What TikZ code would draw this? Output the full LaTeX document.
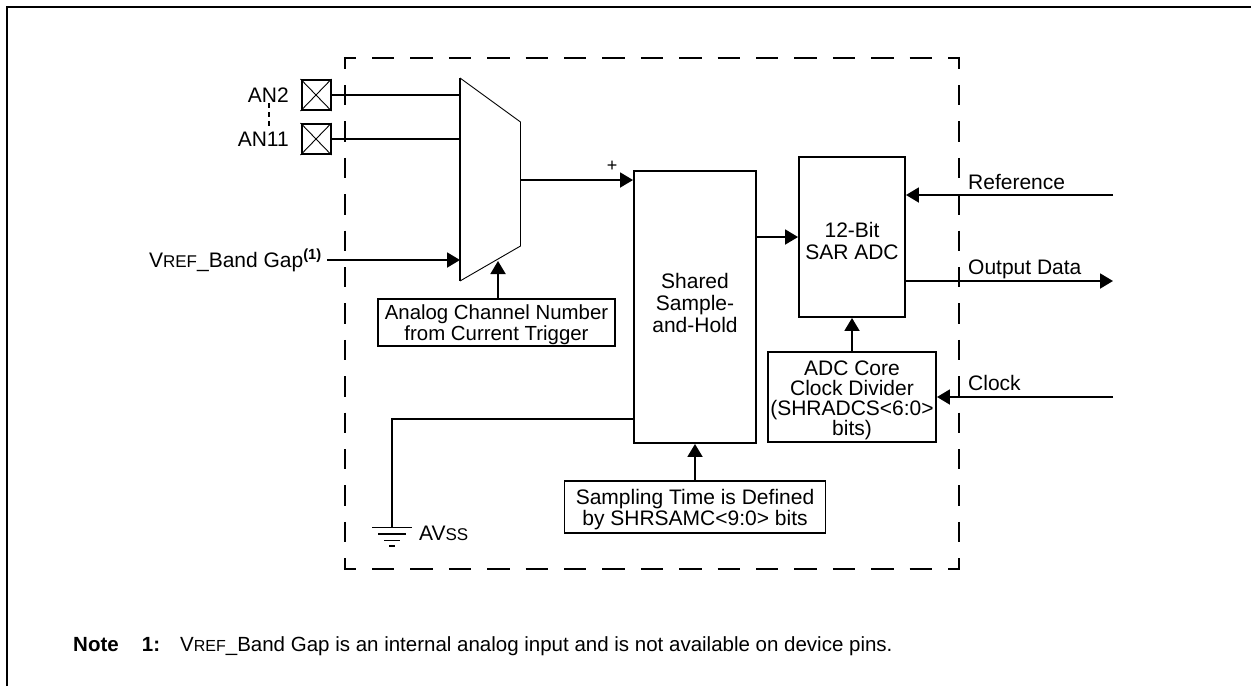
\documentclass[tikz,border=0pt]{standalone}
\usepackage{fontspec}
\setmainfont{Liberation Sans}
\usetikzlibrary{arrows.meta,calc}
\newcommand{\fs}{\fontsize{21}{22}\selectfont}
\newcommand{\sm}[1]{{\fontsize{17}{22}\selectfont #1}}
\tikzset{
 wire/.style={line width=1.9pt},
 arr/.style={wire,-{Triangle[length=13pt,width=15pt]}},
 block/.style={draw,line width=1.9pt,rectangle,inner sep=0pt},
 blocktext/.style={inner sep=0pt,align=center,font=\fs},
 pin/.style={draw,line width=2pt,rectangle,inner sep=0pt,minimum width=29pt,minimum height=30pt},
 lbl/.style={inner sep=0pt,font=\fs,anchor=base west},
 lble/.style={inner sep=0pt,font=\fs,anchor=base east},
 hdash/.style={line width=1.9pt,dash pattern=on 22.4pt off 16pt,dash phase=10.2pt},
 vdash/.style={line width=1.9pt,dash pattern=on 20.4pt off 16pt,dash phase=8.2pt},
 notetext/.style={inner sep=0pt,anchor=base west},
}
\begin{document}
\begin{tikzpicture}[x=1pt,y=-1pt]
\useasboundingbox (0,0) rectangle (1251,686);
\draw[line width=2.4pt] (7,686) -- (7,7) -- (1251,7);
% boundary
\node[rectangle,inner sep=0pt,minimum width=614pt,minimum height=511pt] (bound) at (652,313.5) {};
\draw[hdash] ($(bound.north west)+(-1,0)$) -- ($(bound.north east)+(1,0)$);
\draw[hdash] ($(bound.south west)+(-1,0)$) -- ($(bound.south east)+(1,0)$);
\draw[vdash] ($(bound.north west)+(0,-1)$) -- ($(bound.south west)+(0,1)$);
\draw[vdash] ($(bound.north east)+(0,-1)$) -- ($(bound.south east)+(0,1)$);
% pins
\node[pin] (p1) at (316,95) {};
\node[pin] (p2) at (316,139) {};
\foreach \p in {p1,p2}{\draw[line width=0.9pt] (\p.north west) -- (\p.south east) (\p.north east) -- (\p.south west);}
\node[lble] (an2) at (289,102.5) {AN2};
\node[lble] (an11) at (289,146) {AN11};
\draw[line width=1.6pt,dash pattern=on 4.5pt off 4.5pt] (268.7,103) -- (268.7,130);
% mux
\coordinate (mtl) at (460,78);
\coordinate (mtr) at (520.5,122);
\coordinate (mbr) at (520.5,246);
\coordinate (mbl) at (460,281);
\draw[line width=0.9pt,line join=miter] (mtl) -- (mtr) -- (mbr) -- (mbl);
\draw[line width=1.9pt] (mtl) -- (mbl);
\coordinate (m3) at (460,260);
\coordinate (m4) at (498,261);
\coordinate (mout) at (520.5,180);
% blocks
\node[block,minimum width=122pt,minimum height=272pt,
  label={[name=shtext,blocktext,yshift=4.5pt]center:{Shared\\Sample-\\and-Hold}}] (sh) at (695,307) {};
\node[block,minimum width=106pt,minimum height=160pt,
  label={[name=adctext,blocktext,yshift=-4pt]center:{12-Bit\\SAR ADC}}] (adc) at (852,237) {};
\node[block,minimum width=168pt,minimum height=90pt,
  label={[name=divtext,blocktext,yshift=-3.5pt,font=\fontsize{21}{20}\selectfont]center:{ADC Core\\Clock Divider\\(SHRADCS<6:0>\\bits)}}] (div) at (852,397) {};
\node[block,minimum width=237pt,minimum height=47pt,
  label={[name=chantext,blocktext,yshift=-2pt,font=\fontsize{20.4}{21}\selectfont]center:{Analog Channel Number\\from Current Trigger}}] (chan) at (496.5,322.5) {};
\node[block,minimum width=261pt,minimum height=52pt,
  label={[name=samptext,blocktext,yshift=-2.5pt,font=\fontsize{21}{21}\selectfont]center:{Sampling Time is Defined\\by SHRSAMC<9:0> bits}}] (samp) at (695,507) {};
% connectors
\draw[wire] (p1.east) -- (p1.east -| mtl);
\draw[wire] (p2.east) -- (p2.east -| mtl);
\node[lble] (vref) at (322,267) {V\sm{REF}\_Band Gap\textsuperscript{\textbf{(1)}}};
\coordinate (vout) at (327,260);
\draw[arr] (vout) -- (m3);
\draw[arr] (chan.north -| m4) -- (m4);
\draw[arr] (mout) -- (mout -| sh.west);
\node[inner sep=0pt,font=\fontsize{18}{18}\selectfont] (plus) at (612,166) {+};
\draw[arr] (sh.east |- adc.west) -- (adc.west);
\draw[arr] (samp.north) -- (sh.south);
\draw[arr] (div.north) -- (adc.south);
\coordinate (refin) at (1113,195);
\coordinate (outd) at (1113,281);
\coordinate (clk) at (1113,397);
\draw[arr] (refin) -- (refin -| adc.east);
\draw[arr] (outd -| adc.east) -- (outd);
\draw[arr] (clk) -- (clk -| div.east);
\node[lbl] (lref) at (968,189) {Reference};
\node[lbl] (lout) at (968,274) {Output Data};
\node[lbl] (lclk) at (968,390) {Clock};
% ground
\coordinate (gnd) at (392,527.5);
\coordinate (gtee) at (392,419);
\draw[wire] (sh.west |- gtee) -- (gtee) -- (gnd);
\draw[line width=1.6pt] (372,527.5) -- (412,527.5) (378,534) -- (406,534) (384,540.5) -- (400,540.5) (389,546) -- (395,546);
\node[lbl] (avss) at (419,540) {AV\sm{SS}};
% note
\node[notetext,font=\fontsize{20.5}{22}\selectfont\bfseries] (n1) at (73,651.7) {Note};
\node[notetext,font=\fontsize{20.5}{22}\selectfont\bfseries] (n2) at (141.7,651.7) {1:};
\node[notetext,font=\fontsize{20.5}{22}\selectfont] (n3) at (180,651.7) {V{\fontsize{16}{22}\selectfont REF}\_Band Gap is an internal analog input and is not available on device pins.};
\end{tikzpicture}
\end{document}
